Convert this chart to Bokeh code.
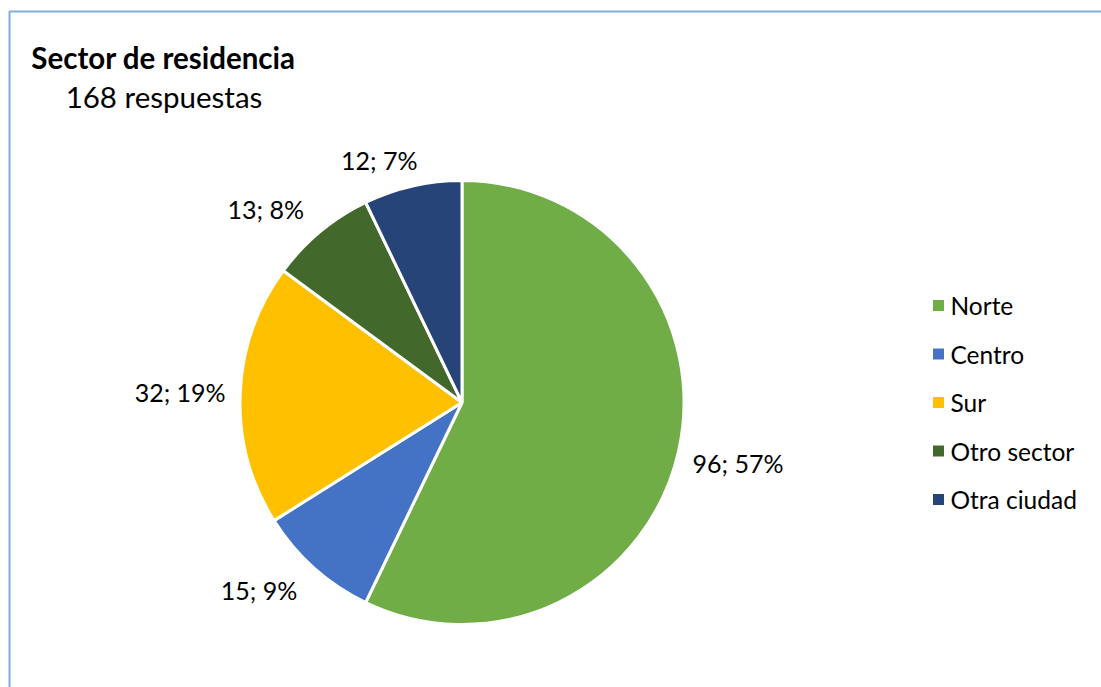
import math
from bokeh.plotting import figure
from bokeh.models import Range1d, ColumnDataSource
from bokeh.core.properties import value
from bokeh.embed import file_html
from bokeh.resources import INLINE

categories = ["Norte", "Centro", "Sur", "Otro sector", "Otra ciudad"]
counts = [96, 15, 32, 13, 12]
percents = ["57%", "9%", "19%", "8%", "7%"]
colors = ["#70AD47", "#4472C4", "#FFC000", "#43682B", "#264478"]
title = "Sector de residencia"
subtitle = "168 respuestas"

W, H = 1101, 687
FONT = "Lato"

p = figure(width=W, height=H, output_backend="svg", toolbar_location=None,
           x_range=Range1d(0, W), y_range=Range1d(0, H), min_border=0)
p.axis.visible = False
p.grid.visible = False
p.outline_line_color = None
p.background_fill_color = "white"
p.border_fill_color = "white"

# frame border (extends off the page on the right and bottom)
p.line(x=[1200, 9, 9], y=[H - 11, H - 11, -100], line_color="#7EAEE0", line_width=2)

# pie
cx, cy, R = 461.5, H - 402, 222
total = sum(counts)
starts, ends, mids = [], [], []
cum = 0
for c in counts:
    a0 = math.pi / 2 - 2 * math.pi * cum / total
    a1 = math.pi / 2 - 2 * math.pi * (cum + c) / total
    starts.append(a1)
    ends.append(a0)
    mids.append((a0 + a1) / 2)
    cum += c

src = ColumnDataSource(dict(start=starts, end=ends, color=colors, cat=categories))
p.wedge(x=cx, y=cy, radius=R, start_angle="start", end_angle="end",
        fill_color="color", line_color="white", line_width=3, source=src)

# data labels (outside end, box pushed away from the pie)
def clip(v):
    return max(-1.0, min(1.0, v))

lx, ly, lt = [], [], []
g, hw, hh, k = 15, 45, 11, 3
for c, pc, m in zip(counts, percents, mids):
    ux, uy = math.cos(m), math.sin(m)
    lx.append(cx + (R + g) * ux + hw * clip(k * ux))
    ly.append(cy + (R + g) * uy + hh * clip(k * uy))
    lt.append(f"{c}; {pc}")
p.text(x=lx, y=ly, text=lt, text_font=value(FONT), text_font_size="25px",
       text_align="center", text_baseline="middle", text_color="#000000")

# title
p.text(x=[163], y=[H - 57], text=[title], text_font=value(FONT), text_font_size="29.5px",
       text_font_style="bold", text_align="center", text_baseline="middle", text_color="#000000")
p.text(x=[163.5], y=[H - 96], text=[subtitle], text_font=value(FONT), text_font_size="29.5px",
       text_align="center", text_baseline="middle", text_color="#000000")

# legend
leg_y = [H - (305 + 48.5 * i) for i in range(len(categories))]
p.scatter(x=[938] * len(categories), y=leg_y, marker="square", size=11,
          fill_color=colors, line_color=None)
p.text(x=[950] * len(categories), y=leg_y, text=categories, text_font=value(FONT),
       text_font_size="24.5px", text_align="left", text_baseline="middle", text_color="#000000")

open("out.html", "w").write(file_html(p, INLINE))
